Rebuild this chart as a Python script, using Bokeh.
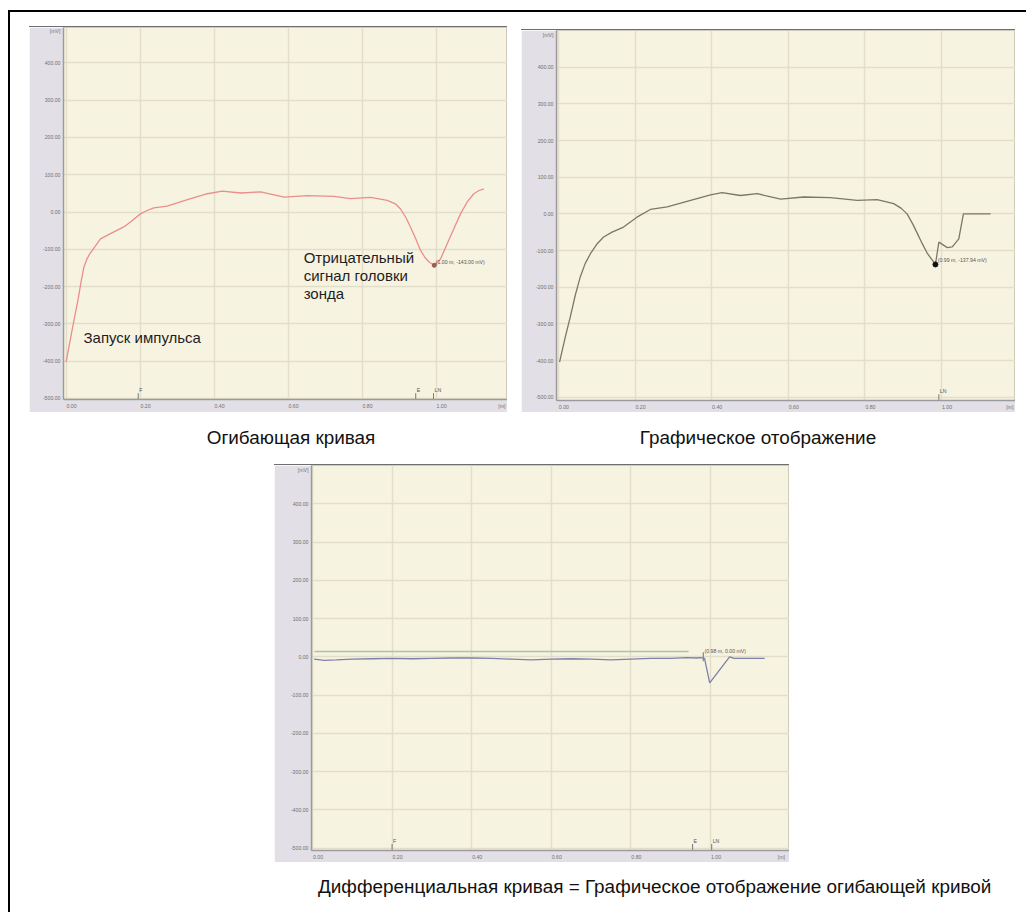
from bokeh.plotting import figure
from bokeh.models import (Range1d, LinearAxis, FixedTicker, PrintfTickFormatter, Grid,
                          Label, Div, Spacer)
from bokeh.layouts import row, column
from bokeh.embed import file_html
from bokeh.resources import INLINE
from bokeh.core.properties import value

# ---------------- data ----------------
y_ticks = [-500, -400, -300, -200, -100, 0, 100, 200, 300, 400]
x_ticks = [0.0, 0.2, 0.4, 0.6, 0.8, 1.0]
y_unit_pos = 487
y_unit = "[mV]"
x_unit_pos = 1.178
x_unit = "[m]"

# Envelope curve (Огибающая кривая)
env_x = [0.000, 0.008, 0.017, 0.025, 0.032, 0.040, 0.048, 0.056, 0.064, 0.080, 0.093, 0.120,
         0.156, 0.174, 0.201, 0.219, 0.237, 0.273, 0.328, 0.382, 0.422, 0.472, 0.526, 0.589,
         0.652, 0.724, 0.769, 0.823, 0.868, 0.890, 0.904, 0.918, 0.931, 0.945, 0.958, 0.970,
         0.981, 0.995, 1.012, 1.030, 1.048, 1.066, 1.084, 1.102, 1.115, 1.129]
env_y = [-403, -360, -313, -272, -237, -190, -148, -127, -112, -90, -72, -58,
         -40, -27, -5, 4, 11, 16, 33, 49, 56, 51, 54, 40,
         44, 42, 36, 39, 31, 22, 8, -14, -41, -72, -103, -122,
         -134, -143, -126, -85, -45, -5, 27, 49, 57, 62]
env_mark_x = [0.995]
env_mark_y = [-143]
env_mark_text = "(1.00 m, -143.00 mV)"

# Graphical representation (Графическое отображение)
map_x = [0.003, 0.017, 0.031, 0.044, 0.057, 0.070, 0.084, 0.100, 0.118, 0.140, 0.170, 0.205,
         0.240, 0.284, 0.345, 0.397, 0.427, 0.475, 0.519, 0.580, 0.640, 0.710, 0.780, 0.832,
         0.875, 0.895, 0.910, 0.925, 0.937, 0.950, 0.963, 0.984, 0.993, 1.015, 1.028, 1.045,
         1.057, 1.128]
map_y = [-404, -340, -281, -222, -172, -135, -108, -83, -63, -50, -36, -9,
         12, 19, 37, 52, 58, 50, 55, 40, 46, 44, 37, 39,
         28, 15, 0, -28, -54, -82, -108, -138, -77, -92, -90, -68,
         0, 0]
map_mark_x = [0.984]
map_mark_y = [-138]
map_mark_text = "(0.99 m, -137.94 mV)"

# Differential curve
diff_x = [0.004, 0.030, 0.060, 0.100, 0.150, 0.200, 0.250, 0.300, 0.350, 0.400, 0.450, 0.500,
          0.550, 0.600, 0.650, 0.700, 0.750, 0.800, 0.850, 0.900, 0.940, 0.965, 0.975, 0.985,
          0.998, 1.048, 1.059, 1.136]
diff_y = [-6, -9, -8, -6, -5, -4, -5, -4, -3, -3, -4, -6,
          -8, -6, -5, -6, -8, -6, -4, -4, -2, -3, -2, -4,
          -68, 0, -4, -4]
thr_x = [0.005, 0.945]
thr_y = [14, 14]
diff_mark_x = [0.982]
diff_mark_y = [0]
diff_mark_text = "(0.98 m, 0.00 mV)"

# Distance markers on the x axis
mk1_names = ["F", "E", "LN"]
mk1_x = [0.195, 0.945, 0.993]
mk2_names = ["LN"]
mk2_x = [0.993]
mk3_names = ["F", "E", "LN"]
mk3_x = [0.200, 0.955, 1.003]

captions = ["Огибающая кривая", "Графическое отображение",
            "Дифференциальная кривая = Графическое отображение огибающей кривой"]
ann_lines = ["Отрицательный", "сигнал головки", "зонда"]
ann_pulse = "Запуск импульса"

# ---------------- style ----------------
PANEL = "#e2e0e6"
CREAM = "#f7f3e1"
GRID = "#e3dec9"
TICKC = "#707070"
FONT = "Liberation Sans"
SMALL = "5.2px"


def make_panel(w, h, xr, yr, left, bottom, ppu):
    p = figure(width=w, height=h, x_range=Range1d(*xr), y_range=Range1d(*yr),
               x_axis_location=None, y_axis_location=None,
               output_backend="svg", toolbar_location=None,
               min_border_left=left, min_border_right=0, min_border_top=0,
               min_border_bottom=bottom, background_fill_color=CREAM,
               border_fill_color=PANEL, outline_line_color="#cfcabb")
    p.center = [c for c in p.center if not isinstance(c, Grid)]
    p.add_layout(Grid(dimension=0, ticker=FixedTicker(ticks=x_ticks),
                      grid_line_color=GRID, grid_line_width=1.5))
    p.add_layout(Grid(dimension=1, ticker=FixedTicker(ticks=y_ticks),
                      grid_line_color=GRID, grid_line_width=1.5))
    common = dict(major_tick_line_color=None, minor_tick_line_color=None,
                  major_tick_out=0, major_tick_in=0,
                  major_label_text_font_size=SMALL, major_label_text_color=TICKC,
                  major_label_text_font=FONT, axis_line_color="#9c9aa0",
                  axis_line_width=1.5, formatter=PrintfTickFormatter(format="%.2f"))
    yax = LinearAxis(ticker=FixedTicker(ticks=y_ticks + [y_unit_pos]),
                     major_label_overrides={y_unit_pos: y_unit},
                     major_label_standoff=3, **common)
    p.add_layout(yax, "left")
    # x labels start at their tick (left aligned): shift via an offset range
    d = 5.5 / ppu
    p.extra_x_ranges = {"lab": Range1d(xr[0] - d, xr[1] - d)}
    m_lab = round(x_unit_pos - d, 4)
    xax = LinearAxis(x_range_name="lab", ticker=FixedTicker(ticks=x_ticks + [m_lab]),
                     major_label_overrides={m_lab: x_unit},
                     major_label_standoff=3, **common)
    p.add_layout(xax, "below")
    return p


def add_markers(p, names, xs, yr):
    n = len(xs)
    p.segment(x0=xs, y0=[yr[0]] * n, x1=xs, y1=[yr[0] + 17] * n,
              line_color="#777777", line_width=1)
    p.text(x=xs, y=[yr[0] + 18] * n, text=names, x_offset=1,
           text_font=value(FONT), text_font_size=SMALL, text_color="#555555",
           text_align="left", text_baseline="bottom")


def small_label(p, x, y, t):
    p.add_layout(Label(x=x, y=y, text=t, text_font=FONT, text_font_size=SMALL,
                       text_color="#555555", text_align="left", text_baseline="middle"))


# ---- Plot 1: envelope ----
yr1 = (-503, 495)
p1 = make_panel(478, 385, (-0.007, 1.193), yr1, 34, 13, 370)
p1.line(env_x, env_y, line_color="#ea8e89", line_width=1.3)
p1.scatter(env_mark_x, env_mark_y, size=4, color="#9a5a55")
small_label(p1, 0.999, -135, env_mark_text)
add_markers(p1, mk1_names, mk1_x, yr1)
for txt, yy in zip(ann_lines, [-121, -170, -218]):
    p1.add_layout(Label(x=0.642, y=yy, text=txt, text_font=FONT, text_font_size="15px",
                        text_color="#1e1e1e", text_baseline="alphabetic"))
p1.add_layout(Label(x=0.047, y=-336, text=ann_pulse, text_font=FONT, text_font_size="15px",
                    text_color="#1e1e1e", text_baseline="alphabetic"))

# ---- Plot 2: graphical representation ----
yr2 = (-509, 500)
p2 = make_panel(494, 382, (-0.005, 1.193), yr2, 35, 12, 383)
p2.line(map_x, map_y, line_color="#7a786a", line_width=1.3)
p2.scatter(map_mark_x, map_mark_y, size=5, color="#111111")
small_label(p2, 0.99, -127, map_mark_text)
add_markers(p2, mk2_names, mk2_x, yr2)

# ---- Plot 3: differential curve ----
yr3 = (-506, 500)
p3 = make_panel(515, 397, (-0.0025, 1.1985), yr3, 37, 12, 398)
p3.line(thr_x, thr_y, line_color="#a9c59b", line_width=1.3)
p3.line(diff_x, diff_y, line_color="#7d80a8", line_width=1.3)
p3.scatter(diff_mark_x, diff_mark_y, marker="dash", angle=1.5708, size=9,
           line_color="#7d80a8", line_width=1.2)
small_label(p3, 0.985, 14, diff_mark_text)
add_markers(p3, mk3_names, mk3_x, yr3)

# ---------------- page layout ----------------

def bar(w, h, color):
    return Div(text="", width=w, height=h, margin=0, styles={"background-color": color})


def cap(t, w, h, lh, align):
    html = ('<div style="font-family:\'Liberation Sans\',Arial,sans-serif;font-size:18.9px;'
            f'color:#111111;line-height:{lh}px;text-align:{align};width:{w}px;white-space:nowrap">{t}</div>')
    return Div(text=html, width=w, height=h, margin=0)


top_row = row(
    Spacer(width=19, height=386, margin=0),
    column(bar(478, 1, "#6e6e6e"), p1, spacing=0, margin=0),
    Spacer(width=14, height=386, margin=0),
    column(Spacer(width=494, height=3, margin=0), bar(494, 1, "#6e6e6e"), p2, spacing=0, margin=0),
    spacing=0, margin=0)
cap_row = row(cap(captions[0], 562, 52, 52, "center"), cap(captions[1], 372, 52, 52, "center"),
              spacing=0, margin=0)
mid_row = row(Spacer(width=264, height=398, margin=0),
              column(bar(515, 1, "#6e6e6e"), p3, spacing=0, margin=0),
              spacing=0, margin=0)
cap3_row = row(Spacer(width=308, height=43, margin=0), cap(captions[2], 700, 43, 50, "left"),
               spacing=0, margin=0)
inner = column(Spacer(width=1009, height=14, margin=0), top_row, cap_row, mid_row, cap3_row,
               spacing=0, margin=0)
framed = column(Spacer(width=1018, height=10, margin=0), bar(1018, 2, "#000000"),
                row(bar(2, 900, "#000000"), inner, spacing=0, margin=0),
                spacing=0, margin=0)
page = row(Spacer(width=8, height=912, margin=0), framed, spacing=0, margin=0)

open("out.html", "w").write(file_html(page, INLINE))
